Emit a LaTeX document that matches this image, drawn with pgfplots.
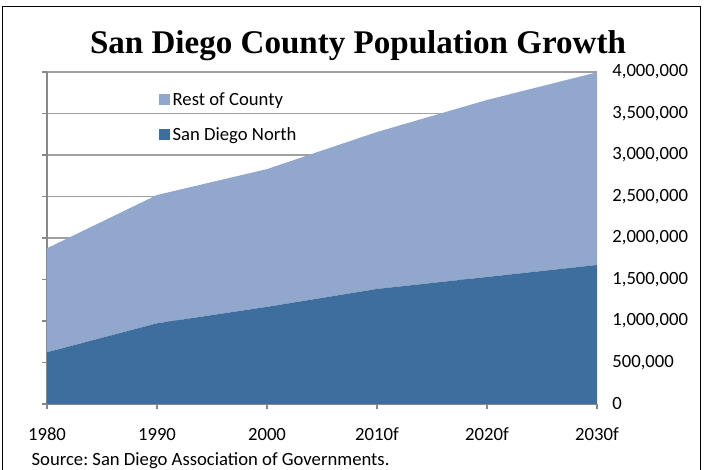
\documentclass[border=0pt]{standalone}
\usepackage{fontspec}
\setmainfont{Carlito}
\newfontfamily\titlefont{Liberation Serif}
\usepackage{pgfplots}
\pgfplotsset{compat=1.18}
\definecolor{north}{RGB}{62,110,158}
\definecolor{rest}{RGB}{145,167,203}
\definecolor{gridc}{RGB}{160,160,160}
\definecolor{axisc}{RGB}{136,136,136}
\frenchspacing
\begin{document}
\begin{tikzpicture}
\path[use as bounding box] (0pt,0pt) rectangle (530.25pt,352.5pt);
\draw[black,line width=0.8pt] (2.2pt,-2pt) -- (2.2pt,347.5pt) -- (525.5pt,347.5pt) -- (525.5pt,-2pt);
\node[anchor=base,font=\titlefont\bfseries\fontsize{24.8}{28}\selectfont] at (268.5pt,312pt) {San Diego County Population Growth};
\node[anchor=base west,font=\fontsize{14}{16}\selectfont,inner sep=0pt] at (23.5pt,3.4pt) {Source: San Diego Association of Governments.};
\begin{axis}[
  scale only axis,
  width=412.5pt, height=249pt,
  at={(35.25pt,49.5pt)}, anchor=origin,
  xmin=0, xmax=5, ymin=0, ymax=4000000,
  stack plots=y,
  axis x line*=bottom, axis y line*=left,
  axis line style={axisc, line width=1pt},
  tick style={axisc, line width=0.8pt},
  tick align=outside, major tick length=4pt,
  xtick={0,1,2,3,4,5},
  xticklabels={1980,1990,2000,2010f,2020f,2030f},
  xticklabel style={font=\fontsize{14}{16}\selectfont, yshift=-10.5pt},
  ytick={0,500000,...,4000000},
  yticklabels={},
  scaled y ticks=false,
  ymajorgrids, grid style={gridc, line width=0.8pt},
  legend style={draw=none, fill=none, at={(0.196,0.955)}, anchor=north west,
    font=\fontsize{14}{16}\selectfont, row sep=11pt, legend cell align=left},
  legend image code/.code={\path[#1,draw=none] (0pt,-4.1pt) rectangle (8.2pt,4.1pt);},
  reverse legend,
]
\addplot[fill=north, draw=none] coordinates {(0,623000) (1,972000) (2,1170000) (3,1386000) (4,1530000) (5,1675000)} \closedcycle;
\addlegendentry{San Diego North}
\addplot[fill=rest, draw=none] coordinates {(0,1253000) (1,1546000) (2,1660000) (3,1891000) (4,2133000) (5,2321000)} \closedcycle;
\addlegendentry{Rest of County}
\end{axis}
\begin{axis}[
  scale only axis,
  width=412.5pt, height=249pt,
  at={(35.25pt,49.5pt)}, anchor=origin,
  xmin=0, xmax=5, ymin=0, ymax=4000000,
  hide x axis,
  axis y line*=right,
  y axis line style={draw=none},
  major tick length=0pt,
  ytick={0,500000,...,4000000},
  scaled y ticks=false,
  yticklabel style={font=\fontsize{14}{16}\selectfont, anchor=west, xshift=8pt,
    /pgf/number format/.cd, fixed, 1000 sep={,}, assume math mode=true},
]
\end{axis}
\end{tikzpicture}
\end{document}
